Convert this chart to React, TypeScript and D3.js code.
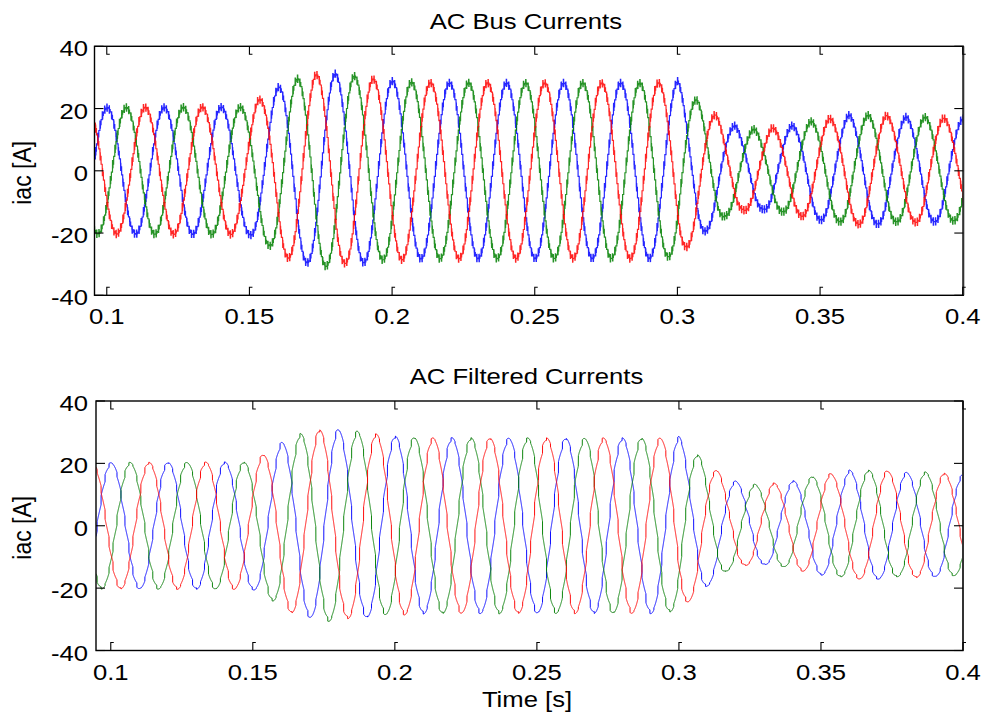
import React, { useMemo } from 'react';
import * as d3 from 'd3';

const W = 986;
const H = 718;

// Fundamental frequency and peak instants of each phase
const FREQ = 50;
const phaseColors = ['#0000ff', '#008000', '#ff0000'];
const phasePeakTimes = [0.1, 0.10667, 0.11333];

// Current envelope (peak amplitude, A) read at successive half-cycle peaks
const envTimes = [0.0948, 0.12, 0.15, 0.1528, 0.1567, 0.16, 0.1628, 0.1667, 0.17, 0.1728, 0.1767, 0.18, 0.1828, 0.1867, 0.19, 0.1928, 0.1967, 0.2, 0.21, 0.25, 0.29, 0.2928, 0.2967, 0.3, 0.3028, 0.3067, 0.31, 0.3133, 0.3167, 0.32, 0.3228, 0.3267, 0.33, 0.3328, 0.3367, 0.34, 0.3428, 0.3467, 0.35, 0.3528, 0.3567, 0.36, 0.3628, 0.3667, 0.37, 0.3728, 0.3767, 0.38, 0.3828, 0.3867, 0.39, 0.3928, 0.3967, 0.4005];
const envAmps = [20.3, 20.4, 20.5, 22.7, 24.0, 26.9, 27.8, 29.6, 29.5, 30.9, 30.7, 31.2, 29.7, 30.5, 29.5, 29.6, 28.6, 28.8, 28.3, 28.2, 28.2, 28.4, 27.6, 28.8, 24.7, 22.7, 19.2, 17.9, 14.4, 14.5, 12.6, 13.4, 12.3, 13.8, 13.1, 14.5, 14.4, 15.9, 15.8, 16.8, 16.3, 17.9, 17.1, 17.9, 17.1, 17.9, 16.3, 17.3, 16.5, 17.3, 16.3, 17.0, 16.0, 16.9];

// Switching-ripple texture parameters
const busStepPeriod = 0.0004; // s, converter update period (staircase)
const busSpikeAmp = 1.4; // A
const filtStepPeriod = 0.0014; // s
const filtStepShare = 0.35;

const xTicks = [0.1, 0.15, 0.2, 0.25, 0.3, 0.35, 0.4];
const xTickLabels = ['0.1', '0.15', '0.2', '0.25', '0.3', '0.35', '0.4'];
const yTicks = [-40, -20, 0, 20, 40];
const yTickLabels = ['-40', '-20', '0', '20', '40'];

const titles = ['AC Bus Currents', 'AC Filtered Currents'];
const yLabel = 'iac [A]';
const xLabel = 'Time [s]';

const FONT = "'Liberation Sans', Arial, Helvetica, sans-serif";
const SX = 1.14;

const panels = [
  { left: 94.5, right: 963.3, top: 46.3, bottom: 295.3, t0: 0.0957, t1: 0.4002, kind: 'bus' },
  { left: 96, right: 963, top: 401, bottom: 650.5, t0: 0.0948, t1: 0.4, kind: 'filt' },
];

const omega = 2 * Math.PI * FREQ;

function makeSeries(kind: string, t0: number, t1: number) {
  const env = d3.scaleLinear().domain(envTimes).range(envAmps).clamp(true);
  const dt = 0.00002;
  const n = Math.round((t1 - t0) / dt);
  return phasePeakTimes.map((tp, k) => {
    const pts: [number, number][] = [];
    for (let i = 0; i <= n; i++) {
      const t = t0 + i * dt;
      let v: number;
      if (kind === 'bus') {
        const tk = Math.floor(t / busStepPeriod) * busStepPeriod;
        const u = (t - tk) / busStepPeriod;
        const base = env(tk) * Math.cos(omega * (tk - tp));
        const stepIdx = Math.floor(t / busStepPeriod) + k;
        const spike = stepIdx % 2 === 0 && u < 0.5 ? busSpikeAmp * Math.sin(2 * Math.PI * 4 * u) : 0;
        v = base + spike;
      } else {
        const tk = Math.floor(t / filtStepPeriod) * filtStepPeriod;
        const s = env(t) * Math.cos(omega * (t - tp));
        const z = env(tk) * Math.cos(omega * (tk - tp));
        v = s + filtStepShare * (z - s);
      }
      pts.push([t, v]);
    }
    return pts;
  });
}

function Panel({ p, idx }: { p: typeof panels[number]; idx: number }) {
  const x = d3.scaleLinear().domain([p.t0, p.t1]).range([p.left, p.right]);
  const y = d3.scaleLinear().domain([-40, 40]).range([p.bottom, p.top]);
  const series = useMemo(() => makeSeries(p.kind, p.t0, p.t1), [p.kind, p.t0, p.t1]);
  const line = d3.line<[number, number]>().x((d) => x(d[0])).y((d) => y(d[1]));
  const clipId = `clip${idx}`;
  const midX = (p.left + p.right) / 2;
  const midY = (p.top + p.bottom) / 2;
  return (
    <g>
      <defs>
        <clipPath id={clipId}>
          <rect x={p.left} y={p.top} width={p.right - p.left} height={p.bottom - p.top} />
        </clipPath>
      </defs>
      <g clipPath={`url(#${clipId})`}>
        {series.map((s, i) => (
          <path key={i} d={line(s) || ''} fill="none" stroke={phaseColors[i]}
            strokeWidth={p.kind === 'bus' ? 1.2 : 1.0} strokeOpacity={p.kind === 'bus' ? 0.85 : 0.95} />
        ))}
      </g>
      <rect x={p.left} y={p.top} width={p.right - p.left} height={p.bottom - p.top}
        fill="none" stroke="#000" strokeWidth={1.4} />
      <line x1={p.right} x2={p.right} y1={p.top} y2={p.bottom} stroke="#333" strokeWidth={2} />
      {xTicks.map((t, i) => (
        <g key={'xt' + i}>
          <path d={`M${x(t)},${p.top} v8 h3`} fill="none" stroke="#000" strokeWidth={1.1} />
          <path d={`M${x(t)},${p.bottom} v-8 h3`} fill="none" stroke="#000" strokeWidth={1.1} />
          <text transform={`translate(${x(t)},${p.bottom + 29}) scale(${SX},1)`} textAnchor="middle"
            fontFamily={FONT} fontSize={22.5} fill="#000">{xTickLabels[i]}</text>
        </g>
      ))}
      {yTicks.map((v, i) => (
        <g key={'yt' + i}>
          <path d={`M${p.left},${y(v)} h9`} fill="none" stroke="#000" strokeWidth={1.1} />
          <path d={`M${p.right},${y(v)} h-9`} fill="none" stroke="#000" strokeWidth={1.1} />
          <text transform={`translate(88,${y(v) + 10}) scale(${SX},1)`} textAnchor="end"
            fontFamily={FONT} fontSize={22.5} fill="#000">{yTickLabels[i]}</text>
        </g>
      ))}
      <text transform={`translate(${midX - 3},${p.top - 17}) scale(${SX},1)`} textAnchor="middle"
        fontFamily={FONT} fontSize={22.5} fill="#000">{titles[idx]}</text>
      <text transform={`translate(31,${midY + 2}) scale(${SX},1) rotate(-90)`} textAnchor="middle"
        fontFamily={FONT} fontSize={23} fill="#000">{yLabel}</text>
    </g>
  );
}

export default function App() {
  return (
    <svg width={W} height={H} style={{ position: 'absolute', left: 0, top: 0, background: '#fff' }}>
      <rect x={0} y={0} width={W} height={H} fill="#fff" />
      {panels.map((p, i) => (
        <Panel key={i} p={p} idx={i} />
      ))}
      <text transform={`translate(527,707) scale(${SX},1)`} textAnchor="middle"
        fontFamily={FONT} fontSize={22.5} fill="#000">{xLabel}</text>
    </svg>
  );
}
